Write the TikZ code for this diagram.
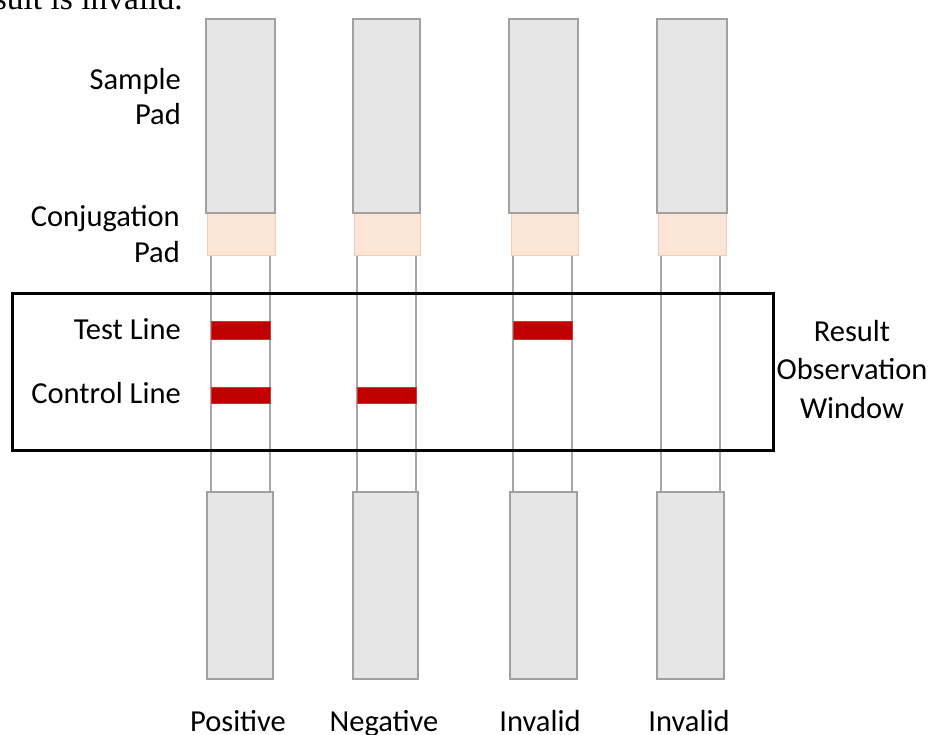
\documentclass[tikz,border=0pt]{standalone}
\usepackage{fontspec}
\setmainfont{Carlito}
\newfontfamily\serifcut{Liberation Serif}
\definecolor{padfill}{HTML}{E6E6E6}
\definecolor{paddraw}{HTML}{A0A0A0}
\definecolor{conjfill}{HTML}{FBE5D6}
\definecolor{conjdraw}{HTML}{F8CBAD}
\definecolor{stripline}{HTML}{A6A6A6}
\definecolor{redline}{HTML}{C00000}
\tikzset{
  padbox/.style={fill=padfill,draw=paddraw,line width=1.8pt},
  conjbox/.style={fill=conjfill,draw=conjdraw,line width=1pt},
  stripedge/.style={draw=stripline,line width=1.8pt},
  bandbar/.style={fill=redline,draw=redline!80!white,line width=0.6pt},
  windowbox/.style={draw=black,line width=3pt},
  lbl/.style={inner sep=0pt,font=\fontsize{30.5}{37}\selectfont}
}
\begin{document}
\begin{tikzpicture}[x=1pt,y=-1pt]
\useasboundingbox (0,0) rectangle (935,735);
\begin{scope}
\clip (0,0) rectangle (935,735);
\node[inner sep=0pt,anchor=base east,font=\serifcut\fontsize{33.5}{38}\selectfont] (cut) at (183,10) {result is invalid.};
\end{scope}
% strips: left line, right line, top pad, conj pad, bottom pad
\foreach \la/\lb/\ta/\tb/\ca/\cb/\ba/\bb in {
  211/270/206/275/207/275/207/273,
  357/416/353/420/354/420/353/418,
  513/572/509/578/511/578/510/577,
  661/720/657/727/658/726/657/724}{
  \draw[stripedge] (\la,256) -- (\la,492);
  \draw[stripedge] (\lb,256) -- (\lb,492);
  \draw[conjbox] (\ca,213) rectangle (\cb,256);
  \draw[padbox] (\ta,19) rectangle (\tb,213);
  \draw[padbox] (\ba,492) rectangle (\bb,679);
}
% bands
\draw[bandbar] (211,321) rectangle (270,339);
\draw[bandbar] (211,387) rectangle (270,403);
\draw[bandbar] (357,387) rectangle (416,403);
\draw[bandbar] (513,321) rectangle (572,339);
% window
\draw[windowbox] (12,294) rectangle (773,450);
% left labels
\node[lbl,anchor=base east] (sample) at (181,90) {Sample};
\node[lbl,anchor=base east] (samplepad) at (181,125) {Pad};
\node[lbl,anchor=base east] (conj) at (180,227) {Conjugation};
\node[lbl,anchor=base east] (conjpad) at (180,263) {Pad};
\node[lbl,anchor=base east] (test) at (181,340) {Test Line};
\node[lbl,anchor=base east] (control) at (181,404) {Control Line};
% right labels
\node[lbl,anchor=base] (res1) at (852,342) {Result};
\node[lbl,anchor=base] (res2) at (852,380) {Observation};
\node[lbl,anchor=base] (res3) at (852,418) {Window};
% bottom labels
\node[lbl,anchor=base] (pos) at (238,731) {Positive};
\node[lbl,anchor=base] (neg) at (384,731) {Negative};
\node[lbl,anchor=base] (inv1) at (540,731) {Invalid};
\node[lbl,anchor=base] (inv2) at (689,731) {Invalid};
\end{tikzpicture}
\end{document}
